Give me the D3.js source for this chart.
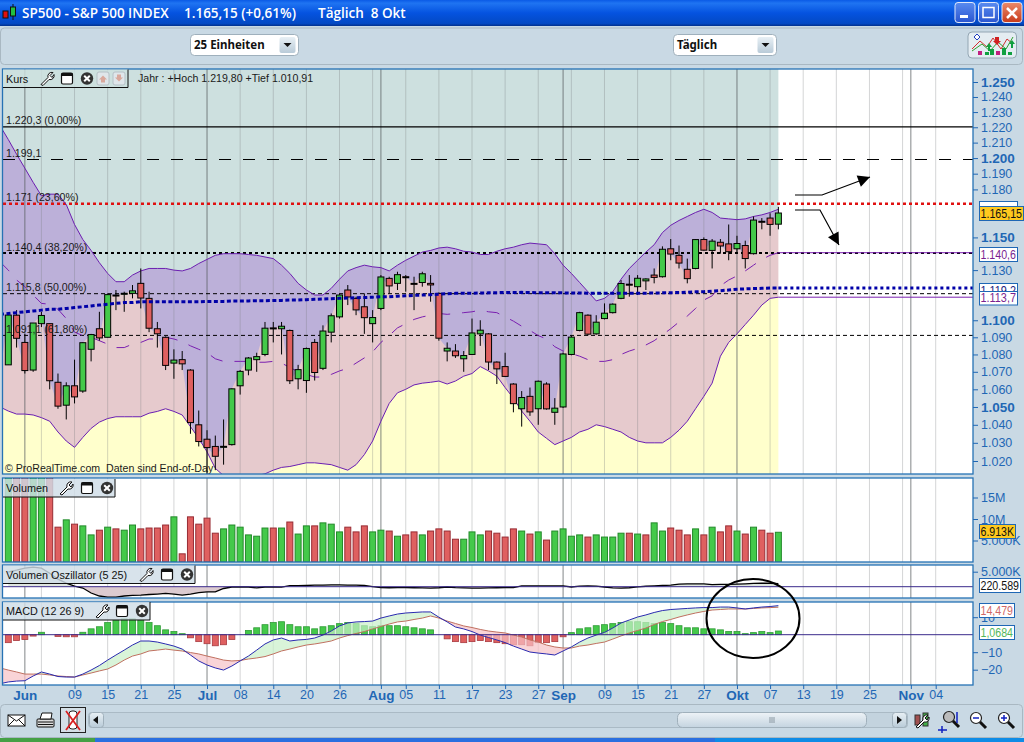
<!DOCTYPE html>
<html lang="de">
<head>
<meta charset="UTF-8">
<title>SP500</title>
<script src="https://cdnjs.cloudflare.com/ajax/libs/d3/7.8.5/d3.min.js"></script>
<style>
html, body { margin: 0; padding: 0; overflow: hidden; background: #c9d9e4; }
svg { display: block; font-family: "Liberation Sans", Arial, sans-serif; }
.ax text { fill: #1f67b5; font-size: 12.5px; font-family: "Liberation Sans", Arial, sans-serif; }
.ax line { stroke: #1f67b5; }
.ax .major text { font-weight: bold; font-size: 13.5px; }
.lbl { font-size: 10.6px; fill: #1a1a1a; }
</style>
</head>
<body>
<div id="chartholder"></div>
<script>
// candles, 27 May - 8 Oct
var opens = [1074,1103,1087,1071,1098,1098,1064,1051,1062,1059,1083,1095,1090,1115,1115.6,1116,1122,1113,1095,1090,1075,1077,1071,1040,1032,1028,1028,1029,1062,1071,1077,1080,1095.5,1095,1094,1066,1065,1087,1072,1093,1102,1118,1113,1108,1098,1107,1125,1122,1126,1122,1122.5,1122,1116,1082,1082,1077.5,1080,1092,1092,1075.6,1073,1063,1049,1056,1049,1063,1047,1050,1080,1094,1103,1092,1101,1104.5,1113,1121.5,1120,1123.5,1127,1126,1143,1139,1130.5,1131,1148.7,1142,1147,1146,1143,1145,1140,1160,1162,1158.2];
var highs = [1103,1106,1092,1098.4,1105,1098,1069,1064,1077,1087,1092,1105,1116,1118,1117,1121,1131,1117,1099,1090.5,1083,1082,1071.5,1048,1037,1034,1043,1060.5,1071,1078.5,1081,1099,1099,1099,1094.5,1074,1084,1089,1097,1104,1115.5,1121,1114,1116,1106,1127,1126,1129,1127,1126,1129,1127,1116.5,1087,1086,1082,1101,1100,1092.5,1076,1081,1063.5,1059,1061,1065,1064,1055,1081,1091,1105,1103.5,1103,1110,1110,1124,1127,1127,1125,1131,1144.5,1149,1145,1137,1149,1150,1149,1149,1158,1151,1148,1163,1162,1165,1169];
var lows = [1074,1084,1069,1070,1096,1060,1049,1043,1052,1058,1076,1088,1090,1106,1105,1113,1107,1093,1084,1071,1066,1071,1035,1028,1011,1015,1018,1028.5,1057,1068,1070,1079,1087,1080,1063,1060,1058,1065,1071,1087,1101,1109,1103,1092,1087,1106,1116,1118,1117,1106,1120,1111,1088,1076,1078,1070,1080,1085,1071,1063,1067,1047,1039,1045,1040,1048.5,1040,1049.5,1079.5,1093.5,1091,1091.5,1100.5,1104,1112.5,1114,1115,1118,1122,1125.5,1136,1131,1122,1130.5,1142,1131,1140,1136,1140,1131,1139.5,1155,1151,1155];
var closes = [1103.06,1089.41,1070.71,1098.38,1102.83,1064.88,1050.47,1062,1055.69,1086.84,1091.6,1089.63,1115.23,1114.61,1116.04,1117.51,1113.2,1095.31,1092.04,1073.69,1076.76,1074.57,1041.24,1030.71,1027.37,1022.58,1028.06,1060.27,1070.25,1077.96,1078.75,1095.34,1095.17,1096.48,1064.88,1071.25,1083.48,1069.59,1093.67,1102.66,1115.01,1113.84,1106.13,1101.53,1101.6,1125.86,1120.46,1127.24,1125.81,1121.64,1127.79,1121.06,1089.47,1083.61,1079.25,1079.38,1092.54,1094.16,1075.63,1071.69,1067.36,1051.87,1055.33,1047.22,1064.59,1048.92,1049.33,1080.29,1090.1,1104.51,1091.84,1098.87,1104.18,1109.55,1121.9,1121.1,1125.07,1124.66,1125.59,1142.71,1139.78,1134.28,1124.83,1148.67,1142.16,1147.7,1144.73,1141.2,1146.24,1137.03,1160.75,1159.97,1158.06,1165.15];
var closeBefore = 1068;

// bands and averages start one session earlier than the candles
var upper = [1221,1212,1202.5,1193.5,1184.5,1176,1177,1177,1170.5,1158,1148.7,1142,1134.5,1128,1123,1123,1127,1129.5,1131,1131,1131,1130,1129.5,1131,1134,1136.5,1139,1140,1140,1140,1139.5,1139,1138,1137,1133,1128,1122,1118,1115,1115,1119,1124.5,1129.5,1131.5,1133,1132,1131.5,1129.5,1133,1136,1138.5,1141,1142,1143.5,1144,1143,1141.5,1141,1139.5,1139.5,1141.5,1143,1144,1145.5,1146.5,1146,1145.5,1140,1133,1128,1122.5,1117,1111.5,1113,1117,1124.5,1131,1136,1141,1145.5,1153,1157.5,1160.5,1163,1165.5,1167.5,1165.5,1162,1161.5,1161,1161.5,1163,1164,1165.5,1167.5];
var lower = [1050,1047.7,1046,1046,1045.5,1044,1042,1036,1031,1027.5,1033,1038,1041.5,1043.5,1044.5,1044.5,1044.5,1044.5,1046.5,1047.5,1049,1047.5,1045.5,1039,1032.5,1025,1016,1012,1012,1012.5,1012.5,1012,1013,1015,1016.5,1017,1018,1019,1019,1018.5,1018,1016.5,1015,1018,1023.5,1031,1042,1052,1058,1060,1062.5,1063.5,1064,1064.7,1063,1064.7,1067.5,1069,1073,1070.5,1067.5,1061,1055,1047.7,1042,1036,1032.5,1029,1031,1033,1036,1037.5,1040,1039,1037.5,1036,1033,1031,1030,1030,1030,1033,1037,1042,1049,1056,1063.5,1079,1087,1092,1097.5,1103,1109,1113,1113.7];
var middle = [1135,1130,1124,1120,1115,1110,1109.5,1106.5,1101,1093,1091,1090,1088,1086,1084,1084,1086,1087,1089,1089,1090,1089,1087.5,1085,1083,1081,1077.5,1076,1076,1076,1076,1075.5,1075.5,1076,1075,1072.5,1070,1068.5,1067,1067,1068.5,1070.5,1072,1075,1078,1081.5,1087,1091,1095.5,1098,1100.5,1102,1103,1104,1103.5,1104,1104.5,1105,1106,1105,1104.5,1102,1099.5,1096.5,1094,1091,1089,1084.5,1082,1080.5,1079,1077,1076,1076,1077,1080,1082,1083.5,1085.5,1088,1091.5,1095,1099,1102.5,1107,1112,1114.5,1120.5,1124,1126.5,1129.5,1133,1136.5,1139,1140.6];
var slowAvg = [1103.5,1104,1104.5,1105,1105.5,1106,1106.5,1106.5,1107,1107.5,1108,1108.5,1109,1109.5,1110,1110.5,1110.5,1111,1111,1111,1111,1111,1111,1111,1111,1111.2,1111.2,1111.2,1111.4,1111.4,1111.5,1111.6,1111.6,1111.7,1111.8,1112,1112,1112.2,1112.4,1112.6,1112.8,1113,1113.2,1113.4,1113.5,1113.7,1114,1114,1114.3,1114.5,1114.8,1115,1115.2,1115.5,1115.8,1116,1116,1116,1116.2,1116.3,1116.4,1116.5,1116.5,1116.6,1116.5,1116.4,1116.4,1116.3,1116.3,1116.2,1116.2,1116.1,1116.1,1116,1116,1116,1116,1116,1116.1,1116.2,1116.3,1116.4,1116.5,1116.7,1116.9,1117,1117.3,1117.6,1118,1118.5,1118.7,1118.9,1119,1119.2,1119.2];

// Fibonacci levels
var fibValues = [1220.3, 1199.1, 1171, 1140.4, 1115.8, 1091.1];
var fibLabels = ["1.220,3 (0,00%)", "1.199,1", "1.171 (23,60%)", "1.140,4 (38,20%)", "1.115,8 (50,00%)", "1.091,1 (61,80%)"];

// volume in millions, the first six run off the top of the pane
var volumes = [20.5,20.5,20.5,20.5,20.5,20.5,8.1,9.8,8.8,8.4,6.3,7.4,8.1,7.7,7.4,8.6,7.7,7.9,7.9,8.6,10.5,1.9,10.5,8.8,10.2,6.7,7.7,8.6,8.1,6.3,6,7.9,7.9,7.9,9.3,6.5,8.4,8.4,9.1,8.8,7,8.1,7,8.4,7,7.4,7.2,6,6.3,7,6.3,7.2,7.7,7.2,5.3,5.3,7,6.3,7.2,6.7,5.8,7.7,7.2,6.5,7,5.1,7.2,7.7,6,6.3,5.8,6.3,5.8,5.8,6.7,6.7,6.5,6.3,9.1,7.2,7.9,7.4,6.3,7.7,6.3,8.1,7,8.4,7.2,6.5,8.1,7.4,6.7,6.913];

// volume oscillator, thousands
var oscillator = [4900,5500,6200,6500,6200,4500,2500,1200,200,-450,-2100,-3100,-3450,-3450,-3100,-2900,-2800,-2600,-2450,-2250,-2450,-2800,-2450,-1950,-1750,-1750,-600,-100,-100,-100,-400,-100,-100,-150,350,350,400,500,550,600,600,550,500,400,0,-300,-350,-300,-300,-350,-400,-450,-350,-100,-300,-400,-450,-450,-400,-350,-300,-300,250,300,300,300,300,250,-100,200,250,200,-100,-400,-450,-350,-50,150,300,400,550,850,950,950,950,700,800,800,850,950,1100,1150,1150,1050];

// MACD, lines start one session earlier than the histogram
var macdLine = [-28,-27,-26.5,-26.3,-23.6,-21.3,-22.5,-23.9,-24.2,-24.2,-22.5,-20.2,-17.6,-14.5,-11.6,-8.8,-5.9,-3.6,-3.6,-4.2,-5.3,-6.5,-8.2,-11.6,-15,-17.3,-19,-20.2,-17.9,-15,-12.2,-8.8,-5.3,-3,-1.9,-3.6,-3,-2.7,-1.9,-0.2,2.1,5,6.7,7.3,7.5,7.8,9.5,10.7,11.8,12.4,12.7,13,13,10,7.3,4.4,3.3,1.8,-0.2,-1.6,-3,-4.5,-6.5,-8.2,-9.9,-10.5,-11,-11.6,-9.3,-7,-4.2,-1.9,-0.2,1.3,3.8,6.7,8.4,10.1,11.3,12.7,13.8,14.4,14.7,15,15.3,15.5,15.5,15.8,15.8,15.3,14.7,15.3,15.8,16.1,16.6];
var signalLine = [-19,-20.2,-21.3,-22.5,-22.5,-22.5,-23,-23.6,-23.9,-24.2,-23,-21.9,-20.7,-19.6,-17.3,-14.5,-12.2,-11,-9.3,-8.8,-8.2,-8.8,-9.3,-10.2,-11,-12.2,-13.3,-14.5,-15,-14.7,-13.9,-13.3,-12.5,-11,-9.3,-8.2,-7,-5.9,-5.3,-4.5,-3.6,-1.9,-0.5,0.7,1.8,3.3,4.7,6.1,7.3,7.8,8.7,9.5,10.7,9.5,7.8,6.4,5,4.1,3,2.1,1.5,1,-0.2,-1.3,-3,-4.2,-5.9,-7,-7.6,-7.6,-6.5,-5.9,-5,-4.2,-2.5,-0.7,1,2.4,3.8,5.8,7.5,8.7,10.1,11.3,12.4,13.3,14.1,14.4,14.7,14.7,14.7,15,15.3,15.5,15.7];
var histogram = [-2.3,-1.7,-1.4,-0.4,0.7,0,-0.5,-0.6,-0.6,0.7,1.7,2.3,3.5,4.2,4.6,4.6,4.2,3.5,2.6,1.4,0.9,0.3,-0.9,-2,-2.6,-3.2,-2.9,-1.4,0,1.2,2,2.9,3.5,3.75,2.9,2.3,2.3,1.7,2.3,2.6,3.2,3.5,3.2,2.6,2.3,2.6,2.6,2.6,2.3,2,1.7,1.4,0,-1.2,-2,-2.3,-2,-1.7,-2,-2.3,-2.6,-2.9,-2.9,-3.2,-2.3,-2.3,-2,-0.6,0.6,1.7,2,2.6,2.9,3.2,3.5,3.75,3.75,3.5,3.2,3.5,3.2,2.6,2,2,1.7,1.7,1.4,0.9,0.9,0.3,0.6,0.9,0.6,1.0684];

// time axis, bar number and label
var tickBars = [2,8,12,16,20,24,28,32,36,40,45,48,52,56,60,64,67,72,76,80,84,88,92,96,100,104,109,112];
var tickLabels = ["Jun","09","15","21","25","Jul","08","14","20","26","Aug","05","11","17","23","27","Sep","09","15","21","27","Okt","07","13","19","25","Nov","04"];
var monthBars = [2,24,45,67,88,109];
var extraGridBars = [4,44,68,108];

// value axes
var priceTicks = [1250,1240,1230,1220,1210,1200,1190,1180,1150,1130,1100,1090,1080,1070,1060,1050,1040,1030,1020];
var volumeTicks = [15, 10, 5];
var macdTicks = [-20, -10, 10];

var width = 1024, height = 742;
var svg = d3.select("#chartholder").append("svg").attr("width", width).attr("height", height);
var defs = svg.append("defs");

function gradient(id, stops) {
    var g = defs.append("linearGradient").attr("id", id).attr("x1", 0).attr("y1", 0).attr("x2", 0).attr("y2", 1);
    stops.forEach(function(s) { g.append("stop").attr("offset", s[0]).attr("stop-color", s[1]); });
}
gradient("titleGrad", [[0, "#0a5ae6"], [0.12, "#1f74f2"], [0.5, "#0553e0"], [0.9, "#0349c4"], [1, "#02308c"]]);
gradient("btnGrad", [[0, "#e8f0f5"], [1, "#b9cbd8"]]);
gradient("blueBtn", [[0, "#5a8cf0"], [1, "#2a55d0"]]);
gradient("redBtn", [[0, "#ea8a6a"], [1, "#c83a1a"]]);
gradient("thumbGrad", [[0, "#eef3f7"], [1, "#c4d4e0"]]);

// panes: left, right, top, bottom
var left = 3, right = 973, dataEnd = 93;
var pricePane = {t: 69, b: 474}, volPane = {t: 478, b: 562}, oscPane = {t: 565, b: 598}, macdPane = {t: 602, b: 685};

var x = d3.scaleLinear().domain([0, 112]).range([8.3, 935.7]);
var xLine = function(d, i) { return x(i - 1); };

var yPrice = d3.scaleLog().domain([1020, 1250]).range([461, 82]);
var yVol = d3.scaleLinear().domain([0, 15]).range([562, 497.5]);
var yOsc = d3.scaleLinear().domain([0, 5000]).range([586.7, 571.7]);
var yMacd = d3.scaleLinear().domain([0, 10]).range([634.7, 617.2]);
var yHist = d3.scaleLinear().domain([0, 1]).range([634.7, 631.24]);

[["clipPrice", pricePane], ["clipVol", volPane], ["clipOsc", oscPane], ["clipMacd", macdPane]].forEach(function(c) {
    defs.append("clipPath").attr("id", c[0]).append("rect")
        .attr("x", left).attr("y", c[1].t).attr("width", right - left).attr("height", c[1].b - c[1].t);
});

// window background
svg.append("rect").attr("width", width).attr("height", height).attr("fill", "#c9d9e4");

// title bar
svg.append("rect").attr("width", width).attr("height", 26).attr("fill", "url(#titleGrad)");
svg.append("rect").attr("x", 3).attr("y", 11).attr("width", 5).attr("height", 7).attr("fill", "#e01010").attr("stroke", "#111");
svg.append("line").attr("x1", 13).attr("x2", 13).attr("y1", 4).attr("y2", 20).attr("stroke", "#111");
svg.append("rect").attr("x", 10.5).attr("y", 7).attr("width", 5).attr("height", 9).attr("fill", "#22c040").attr("stroke", "#111");
var titleParts = [[22, "SP500 - S&P 500 INDEX"], [184, "1.165,15 (+0,61%)"], [318, "Täglich  8 Okt"]];
titleParts.forEach(function(p) {
    svg.append("text").attr("x", p[0]).attr("y", 18).attr("fill", "#fff").attr("xml:space", "preserve")
        .style("white-space", "pre").style("font-family", "'Open Sans'").style("font-weight", 600).style("font-size", "13.5px").text(p[1]);
});
[[955, "url(#blueBtn)"], [978.5, "url(#blueBtn)"], [1002, "url(#redBtn)"]].forEach(function(b) {
    svg.append("rect").attr("x", b[0]).attr("y", 2.5).attr("width", 20).attr("height", 20).attr("rx", 3)
        .attr("fill", b[1]).attr("stroke", "#dfe8fa");
});
svg.append("rect").attr("x", 960).attr("y", 15).attr("width", 8).attr("height", 3).attr("fill", "#fff");
svg.append("rect").attr("x", 983).attr("y", 7.5).attr("width", 11).attr("height", 10).attr("fill", "none").attr("stroke", "#fff").attr("stroke-width", 1.5);
svg.append("path").attr("d", "M1007,8L1017,18M1017,8L1007,18").attr("stroke", "#fff").attr("stroke-width", 2.5);

// top toolbar
svg.append("rect").attr("x", 0.5).attr("y", 28).attr("width", 1022).attr("height", 36.5).attr("rx", 4)
    .attr("fill", "#c9d9e4").attr("stroke", "#a9b8c2");
[[190.5, 108, "25 Einheiten"], [673.5, 103, "Täglich"]].forEach(function(s) {
    svg.append("rect").attr("x", s[0]).attr("y", 34.5).attr("width", s[1]).attr("height", 21).attr("rx", 4)
        .attr("fill", "#fff").attr("stroke", "#9fb0bc");
    svg.append("text").attr("x", s[0] + 3.5).attr("y", 49).attr("fill", "#111")
        .style("font-weight", "bold").style("font-size", "11.5px").style("font-family", "'Noto Sans'").text(s[2]);
    svg.append("rect").attr("x", s[0] + s[1] - 19).attr("y", 37).attr("width", 16).attr("height", 16).attr("rx", 2).attr("fill", "url(#btnGrad)");
    var cx = s[0] + s[1] - 11;
    svg.append("path").attr("d", "M" + (cx - 4) + ",43h8l-4,4z").attr("fill", "#111");
});
// chart style button
var styleBtn = svg.append("g");
styleBtn.append("rect").attr("x", 968).attr("y", 32).attr("width", 48.5).attr("height", 26).attr("rx", 4).attr("fill", "#e4edf2").attr("stroke", "#93a6b3");
styleBtn.append("path").attr("d", "M972,49L980,41L987,47L993,38L1001,49L1007,39L1013,44").attr("fill", "none").attr("stroke", "#d03030");
styleBtn.append("path").attr("d", "M972,51L982,44L990,51L998,42L1006,49L1013,37").attr("fill", "none").attr("stroke", "#30a030");
[[978, 4], [985, 3], [990, 6], [996, 4], [1002, 7], [1008, 3]].forEach(function(b, i) {
    styleBtn.append("rect").attr("x", b[0]).attr("y", 55 - b[1]).attr("width", 4).attr("height", b[1]).attr("fill", i % 3 == 0 ? "#c02080" : "#10a040");
});
styleBtn.append("path").attr("d", "M986,47l3,-4l3,4h-2v4h-2v-4z M1009,44l3,-4l3,4h-2v4h-2v-4z").attr("fill", "#10a040");
styleBtn.append("path").attr("d", "M995,37h4v4h2l-4,4l-4,-4h2z").attr("fill", "#d02020");
styleBtn.append("path").attr("d", "M974,37l3,-3l3,3l-3,3z").attr("fill", "#fff").attr("stroke", "#2040c0");

// pane backgrounds
[pricePane, volPane, oscPane, macdPane].forEach(function(p) {
    svg.append("rect").attr("x", left).attr("y", p.t).attr("width", right - left).attr("height", p.b - p.t).attr("fill", "#fff");
});

// --- price pane fills
var priceG = svg.append("g").attr("clip-path", "url(#clipPrice)");
var closeSplit = [closeBefore].concat(closes);

function bandArea(top, bottom) {
    return d3.area().x(xLine).y0(function(d, i) { return top(i); }).y1(function(d, i) { return bottom(i); })(upper);
}
var paneTop = function() { return pricePane.t; };
var paneBottom = function() { return pricePane.b + 2; };
var yUpper = function(i) { return yPrice(upper[i]); };
var yLower = function(i) { return yPrice(lower[i]); };
var ySplit = function(i) { return Math.max(yPrice(closeSplit[i]), yUpper(i)); };

priceG.append("path").attr("d", bandArea(paneTop, yUpper)).attr("fill", "#cde0df");
priceG.append("path").attr("d", bandArea(yLower, paneBottom)).attr("fill", "#ffffcc");
priceG.append("path").attr("d", bandArea(yUpper, yLower)).attr("fill", "#e6cacd");
priceG.append("path").attr("d", bandArea(yUpper, ySplit)).attr("fill", "#bcb0d9");

// grid in all panes
var gridBars = tickBars.concat(extraGridBars);
[pricePane, volPane, oscPane, macdPane].forEach(function(p) {
    svg.append("g").selectAll("line").data(gridBars).enter().append("line")
        .attr("x1", function(d) { return x(d); }).attr("x2", function(d) { return x(d); })
        .attr("y1", p.t).attr("y2", p.b)
        .attr("stroke", function(d) { return monthBars.includes(d) ? "rgba(90,95,98,0.75)" : "rgba(120,125,128,0.32)"; })
        .attr("stroke-width", 1);
});

// second group so the marks sit over the grid
var marksG = svg.append("g").attr("clip-path", "url(#clipPrice)");

// Fibonacci lines
var fibStyles = [
    {c: "#000", w: 1.2, d: null},
    {c: "#000", w: 1.2, d: "12,12"},
    {c: "#e01010", w: 2.5, d: "3,3"},
    {c: "#000", w: 2, d: "3,3"},
    {c: "#000", w: 1, d: "4,3"},
    {c: "#000", w: 1, d: "4,3"}
];
fibValues.forEach(function(v, i) {
    marksG.append("line").attr("x1", left).attr("x2", right).attr("y1", yPrice(v)).attr("y2", yPrice(v))
        .attr("stroke", fibStyles[i].c).attr("stroke-width", fibStyles[i].w).attr("stroke-dasharray", fibStyles[i].d);
    svg.append("text").attr("class", "lbl").attr("x", 6).attr("y", yPrice(v) - 2.5).text(fibLabels[i]);
});

// bands
var lineOf = function(values, scale) {
    return d3.line().x(xLine).y(function(d) { return scale(d); })(values);
};
marksG.append("path").attr("d", lineOf(middle, yPrice)).attr("fill", "none").attr("stroke", "#7a1fb0").attr("stroke-dasharray", "13,12");
marksG.append("path").attr("d", lineOf(upper, yPrice)).attr("fill", "none").attr("stroke", "#6a1fb0");
marksG.append("path").attr("d", lineOf(lower, yPrice)).attr("fill", "none").attr("stroke", "#6a1fb0");

// flat projection to the right edge
[[middle, "#7a1fb0"], [lower, "#7a1fb0"]].forEach(function(b) {
    var last = b[0][b[0].length - 1];
    marksG.append("line").attr("x1", x(dataEnd)).attr("x2", right).attr("y1", yPrice(last)).attr("y2", yPrice(last)).attr("stroke", b[1]);
});

// candles
var candles = marksG.selectAll("g.candle").data(closes).enter().append("g").attr("class", "candle");
candles.append("line").attr("x1", function(d, i) { return x(i); }).attr("x2", function(d, i) { return x(i); })
    .attr("y1", function(d, i) { return yPrice(highs[i]); }).attr("y2", function(d, i) { return yPrice(lows[i]); })
    .attr("stroke", "#000").attr("stroke-width", 1);
candles.append("rect").attr("x", function(d, i) { return x(i) - 3; }).attr("width", 6)
    .attr("y", function(d, i) { return Math.min(yPrice(opens[i]), yPrice(d)); })
    .attr("height", function(d, i) { return Math.max(1, Math.abs(yPrice(opens[i]) - yPrice(d))); })
    .attr("fill", function(d, i) { return d >= opens[i] ? "#44c94a" : "#df6060"; })
    .attr("stroke", "#000").attr("stroke-width", 1);

// slow average, on top of the candles and carried to the edge
marksG.append("path").attr("d", lineOf(slowAvg, yPrice)).attr("fill", "none").attr("stroke", "#0000a8").attr("stroke-width", 3).attr("stroke-dasharray", "4,2.5");
marksG.append("line").attr("x1", x(dataEnd)).attr("x2", right)
    .attr("y1", yPrice(slowAvg[slowAvg.length - 1])).attr("y2", yPrice(slowAvg[slowAvg.length - 1]))
    .attr("stroke", "#0000a8").attr("stroke-width", 3).attr("stroke-dasharray", "3,3");

svg.append("text").attr("class", "lbl").attr("x", 5).attr("y", 472).text("© ProRealTime.com  Daten sind End-of-Day").style("white-space", "pre");
svg.append("text").attr("class", "lbl").attr("x", 138).attr("y", 82).text("Jahr : +Hoch 1.219,80 +Tief 1.010,91");

// hand drawn arrows
function arrow(points) {
    svg.append("path").attr("d", d3.line()(points)).attr("fill", "none").attr("stroke", "#000").attr("stroke-width", 1.2);
    var a = points[points.length - 2], b = points[points.length - 1];
    var ang = Math.atan2(b[1] - a[1], b[0] - a[0]);
    var len = 12, hw = 6;
    var bx = b[0] - len * Math.cos(ang), by = b[1] - len * Math.sin(ang);
    var nx = -Math.sin(ang) * hw, ny = Math.cos(ang) * hw;
    svg.append("path").attr("d", "M" + b + "L" + (bx + nx) + "," + (by + ny) + "L" + (bx - nx) + "," + (by - ny) + "Z").attr("fill", "#000");
}
arrow([[795, 195], [822, 195], [870, 177]]);
arrow([[795, 210], [820, 210], [839, 245]]);

// --- volume pane
var volG = svg.append("g").attr("clip-path", "url(#clipVol)");
var isUp = function(i) { return closes[i] >= (i ? closes[i - 1] : closeBefore); };
volG.selectAll("rect").data(volumes).enter().append("rect")
    .attr("x", function(d, i) { return x(i) - 3; }).attr("width", 6)
    .attr("y", function(d) { return yVol(d); }).attr("height", function(d) { return yVol(0) - yVol(d); })
    .attr("fill", function(d, i) { return isUp(i) ? "#44c94a" : "#df6060"; })
    .attr("stroke", function(d, i) { return isUp(i) ? "#238a2a" : "#982c34"; });

// --- oscillator pane
var oscG = svg.append("g").attr("clip-path", "url(#clipOsc)");
var oscArea = d3.area().x(function(d, i) { return x(i); }).y1(function(d) { return yOsc(d); });
oscG.append("path").attr("d", oscArea.y0(yOsc(0))(oscillator.map(function(d) { return Math.min(d, 0); }))).attr("fill", "#dccbd0");
oscG.append("path").attr("d", oscArea.y0(yOsc(0))(oscillator.map(function(d) { return Math.max(d, 0); }))).attr("fill", "#dfe6e0");
oscG.append("path").attr("d", d3.line().x(function(d, i) { return x(i); }).y(function(d) { return yOsc(d); })(oscillator))
    .attr("fill", "none").attr("stroke", "#000").attr("stroke-width", 1.3);
oscG.append("line").attr("x1", left).attr("x2", right).attr("y1", yOsc(0)).attr("y2", yOsc(0)).attr("stroke", "#3a2a8c");

// --- MACD pane
var macdG = svg.append("g").attr("clip-path", "url(#clipMacd)");
macdG.selectAll("rect").data(histogram).enter().append("rect")
    .attr("x", function(d, i) { return x(i) - 3; }).attr("width", 6)
    .attr("y", function(d) { return Math.min(yHist(d), yHist(0)); })
    .attr("height", function(d) { return Math.abs(yHist(d) - yHist(0)); })
    .attr("fill", function(d) { return d >= 0 ? "#44c94a" : "#df6060"; })
    .attr("stroke", function(d) { return d >= 0 ? "#2f9a36" : "#a83a40"; }).attr("stroke-width", 0.8);

function macdFill(test, colour) {
    var area = d3.area().x(xLine).y0(function(d, i) { return yMacd(signalLine[i]); })
        .y1(function(d, i) { return test(d, signalLine[i]) ? yMacd(d) : yMacd(signalLine[i]); });
    macdG.append("path").attr("d", area(macdLine)).attr("fill", colour).attr("fill-opacity", 0.7);
}
macdFill(function(m, s) { return m >= s; }, "#c9efc9");
macdFill(function(m, s) { return m < s; }, "#f6c2c6");
macdG.append("path").attr("d", lineOf(signalLine, yMacd)).attr("fill", "none").attr("stroke", "#c07060");
macdG.append("path").attr("d", lineOf(macdLine, yMacd)).attr("fill", "none").attr("stroke", "#2a2ab0");
macdG.append("line").attr("x1", left).attr("x2", right).attr("y1", yMacd(0)).attr("y2", yMacd(0)).attr("stroke", "#3a2a8c");

// pane borders
[pricePane, volPane, oscPane, macdPane].forEach(function(p) {
    svg.append("rect").attr("x", 2.5).attr("y", p.t).attr("width", right - 2.5).attr("height", p.b - p.t)
        .attr("fill", "none").attr("stroke", "#2672b4").attr("stroke-width", 1.3);
});

// value axes
var germanK = function(v) { return "1." + d3.format("03d")(v - 1000); };
var priceAxis = svg.append("g").attr("class", "ax").attr("transform", "translate(" + right + ",0)")
    .call(d3.axisRight(yPrice).tickValues(priceTicks).tickFormat(germanK).tickSize(5).tickPadding(3));
priceAxis.select(".domain").remove();
priceAxis.selectAll(".tick").classed("major", function(d) { return d % 50 == 0; });

var volAxis = svg.append("g").attr("class", "ax").attr("transform", "translate(" + right + ",0)")
    .call(d3.axisRight(yVol).tickValues(volumeTicks).tickFormat(function(d) { return d == 5 ? "5.000K" : d + "M"; }).tickSize(5).tickPadding(3));
volAxis.select(".domain").remove();

var oscAxis = svg.append("g").attr("class", "ax").attr("transform", "translate(" + right + ",0)")
    .call(d3.axisRight(yOsc).tickValues([5000]).tickFormat(function() { return "5.000K"; }).tickSize(5).tickPadding(3));
oscAxis.select(".domain").remove();

var macdAxis = svg.append("g").attr("class", "ax").attr("transform", "translate(" + right + ",0)")
    .call(d3.axisRight(yMacd).tickValues(macdTicks).tickSize(5).tickPadding(3));
macdAxis.select(".domain").remove();

// time axis
var timeAxis = svg.append("g").attr("class", "ax").attr("transform", "translate(0," + macdPane.b + ")")
    .call(d3.axisBottom(x).tickValues(tickBars).tickFormat(function(d, i) { return tickLabels[i]; }).tickSize(4).tickPadding(1));
timeAxis.select(".domain").remove();
timeAxis.selectAll(".tick").classed("major", function(d) { return monthBars.includes(d); });

// value boxes on the right
function valueBox(bx, by, w, h, label, fill, colour) {
    svg.append("rect").attr("x", bx + 0.5).attr("y", by + 0.5).attr("width", w).attr("height", h).attr("fill", fill).attr("stroke", "#1f67b5");
    svg.append("text").attr("x", bx + 1.5).attr("y", by + h - 2.5).attr("fill", colour).style("font-size", "12px")
        .attr("textLength", w - 2.5).attr("lengthAdjust", "spacingAndGlyphs").text(label);
}
svg.append("rect").attr("x", 979.5).attr("y", 201.5).attr("width", 38).attr("height", 10).attr("fill", "#fff").attr("stroke", "#1f67b5");
valueBox(979, 206, 44, 14, "1.165,15", "#ffc91e", "#111");
valueBox(979, 247, 38, 14, "1.140,6", "#fff", "#7a1f90");
valueBox(979, 283, 38, 14, "1.119,2", "#fff", "#1a1a80");
valueBox(979, 291, 38, 13.5, "1.113,7", "#fff", "#7a1f90");
valueBox(979, 524, 36, 14, "6.913K", "#ffc91e", "#111");
svg.append("rect").attr("x", 979).attr("y", 591.5).attr("width", 9).attr("height", 1.5).attr("fill", "#1f67b5");
valueBox(979, 578, 41, 14, "220.589", "#fff", "#111");
valueBox(979, 603, 35, 14, "14,479", "#fff", "#d06868");
valueBox(979, 625, 35, 14, "1,0684", "#fff", "#54b85a");

// hand drawn circle
svg.append("ellipse").attr("cx", 753).attr("cy", 618.5).attr("rx", 46.5).attr("ry", 39.5)
    .attr("fill", "none").attr("stroke", "#000").attr("stroke-width", 2);

// small tool icons
function wrench(g, cx, cy) {
    g.append("path").attr("d", "M" + (cx - 6) + "," + (cy + 6) + "L" + (cx + 1) + "," + (cy - 1) + "A4,4 0 0 1 " + (cx + 6) + "," + (cy - 6) + "L" + (cx + 3) + "," + (cy - 3) + "L" + (cx + 5) + "," + (cy - 1) + "L" + (cx + 7) + "," + (cy - 4) + "A4,4 0 0 1 " + (cx + 2) + "," + (cy + 1) + "L" + (cx - 4) + "," + (cy + 7) + "Z")
        .attr("fill", "#fff").attr("stroke", "#111");
}
function windowIcon(g, cx, cy) {
    g.append("rect").attr("x", cx - 5.5).attr("y", cy - 5.5).attr("width", 11).attr("height", 11).attr("rx", 1.5).attr("fill", "#fff").attr("stroke", "#111").attr("stroke-width", 1.2);
    g.append("rect").attr("x", cx - 5.5).attr("y", cy - 5.5).attr("width", 11).attr("height", 3).attr("fill", "#111");
}
function closeIcon(g, cx, cy) {
    g.append("circle").attr("cx", cx).attr("cy", cy).attr("r", 6.2).attr("fill", "#333");
    g.append("path").attr("d", "M" + (cx - 2.8) + "," + (cy - 2.8) + "l5.6,5.6m0,-5.6l-5.6,5.6").attr("stroke", "#fff").attr("stroke-width", 2);
}
function paneLabel(bx, by, w, text, fill, icons) {
    var g = svg.append("g");
    g.append("rect").attr("x", bx).attr("y", by).attr("width", w).attr("height", 18).attr("fill", fill).attr("fill-opacity", 0.82);
    g.append("path").attr("d", "M" + bx + "," + (by + 18) + "H" + (bx + w) + "V" + by).attr("stroke", "#111").attr("fill", "none");
    g.append("text").attr("x", bx + 3).attr("y", by + 13).attr("fill", "#111").style("font-size", "10.8px").text(text);
    wrench(g, icons[0], by + 9); windowIcon(g, icons[1], by + 9); closeIcon(g, icons[2], by + 9);
    return g;
}
var kurs = paneLabel(3, 69.5, 125, "Kurs", "#cde0df", [47, 67, 87]);
[[103, "M-4,1l4,-4l4,4h-2v3h-4v-3z"], [119, "M-4,-1l4,4l4,-4h-2v-3h-4v3z"]].forEach(function(b) {
    kurs.append("rect").attr("x", b[0] - 6).attr("y", 72).attr("width", 12).attr("height", 13).attr("rx", 2).attr("fill", "#dfe6ea").attr("stroke", "#b5c0c6");
    kurs.append("path").attr("d", b[1]).attr("transform", "translate(" + b[0] + ",78.5)").attr("fill", "#d9a89c");
});
paneLabel(3, 479, 112, "Volumen", "#cfdde6", [66, 87, 107]);
paneLabel(3, 565.5, 192, "Volumen Oszillator (5 25)", "#cfdde6", [146, 167, 187]);
paneLabel(3, 602, 147, "MACD (12 26 9)", "#cfdde6", [102, 122, 142]);

// bottom toolbar
svg.append("rect").attr("x", 0.5).attr("y", 704.5).attr("width", 1022).attr("height", 33).attr("rx", 4).attr("fill", "#c9d9e4").attr("stroke", "#a9b8c2");
// envelope
svg.append("rect").attr("x", 8).attr("y", 715).attr("width", 17).attr("height", 11).attr("fill", "#fff").attr("stroke", "#111");
svg.append("path").attr("d", "M8,715l8.5,6l8.5,-6M8,726l6,-6M25,726l-6,-6").attr("fill", "none").attr("stroke", "#111");
// printer
svg.append("rect").attr("x", 37).attr("y", 719).attr("width", 17).attr("height", 8).attr("rx", 1).attr("fill", "#ddd").attr("stroke", "#111");
svg.append("path").attr("d", "M40,719l2,-6h10l-1,6z").attr("fill", "#fff").attr("stroke", "#111");
svg.append("path").attr("d", "M38,722h15M38,724.5h15").attr("stroke", "#111");
// switched off button
svg.append("rect").attr("x", 60.5).attr("y", 707.5).attr("width", 25).attr("height", 25).attr("fill", "#d4dfe6").attr("stroke", "#222");
svg.append("rect").attr("x", 69).attr("y", 711).attr("width", 8).attr("height", 18).attr("rx", 3).attr("fill", "#fff").attr("stroke", "#222");
svg.append("path").attr("d", "M66,711L80,730M80,711L66,730").attr("stroke", "#d82020").attr("stroke-width", 1.8);
// scroll bar
svg.append("rect").attr("x", 88.5).attr("y", 712.5).attr("width", 819).attr("height", 15).attr("rx", 3).attr("fill", "#c3d3de").attr("stroke", "#aabac5");
svg.append("rect").attr("x", 89.5).attr("y", 712.5).attr("width", 14).attr("height", 15).attr("rx", 3).attr("fill", "url(#btnGrad)").attr("stroke", "#a0b0bb");
svg.append("path").attr("d", "M93,720l5,-4v8z").attr("fill", "#111");
svg.append("rect").attr("x", 677.5).attr("y", 712.5).attr("width", 189).attr("height", 15).attr("rx", 5).attr("fill", "url(#thumbGrad)").attr("stroke", "#a0b0bb");
svg.append("path").attr("d", "M769,718h6M769,720h6M769,722h6").attr("stroke", "#8a98a2");
svg.append("rect").attr("x", 892.5).attr("y", 712.5).attr("width", 14).attr("height", 15).attr("rx", 3).attr("fill", "url(#btnGrad)").attr("stroke", "#a0b0bb");
svg.append("path").attr("d", "M902,720l-5,-4v8z").attr("fill", "#111");
// right hand tools
svg.append("rect").attr("x", 915).attr("y", 715).attr("width", 5).attr("height", 10).attr("fill", "#a05050").attr("stroke", "#333");
svg.append("rect").attr("x", 923).attr("y", 713).attr("width", 5).attr("height", 13).attr("fill", "#44b04a").attr("stroke", "#333");
wrench(svg, 922, 721);
function magnifier(cx, cy, mark) {
    svg.append("line").attr("x1", cx + 3).attr("y1", cy + 3).attr("x2", cx + 10).attr("y2", cy + 10).attr("stroke", "#111").attr("stroke-width", 3);
    svg.append("circle").attr("cx", cx).attr("cy", cy).attr("r", 5.5).attr("fill", mark ? "#fff" : "#bbb").attr("stroke", "#222").attr("stroke-width", 1.2);
    if (mark) svg.append("path").attr("d", mark).attr("transform", "translate(" + cx + "," + cy + ")").attr("stroke", "#1020c0").attr("stroke-width", 1.5);
}
magnifier(949, 717, null);
svg.append("path").attr("d", "M942,726v7M938,730h9M957,712v11").attr("stroke", "#1020c0").attr("stroke-width", 1.5);
magnifier(976, 718, "M-3,0h6");
magnifier(1004, 718, "M-3,0h6M0,-3v6");

// desktop strip at the bottom
svg.append("rect").attr("y", 738).attr("width", width).attr("height", 4).attr("fill", "#2a6fe0");
svg.append("rect").attr("y", 738).attr("width", 95).attr("height", 4).attr("fill", "#45a045");
svg.append("rect").attr("x", 715).attr("y", 738).attr("width", 309).attr("height", 4).attr("fill", "#0f8ce6");
</script>
</body>
</html>
